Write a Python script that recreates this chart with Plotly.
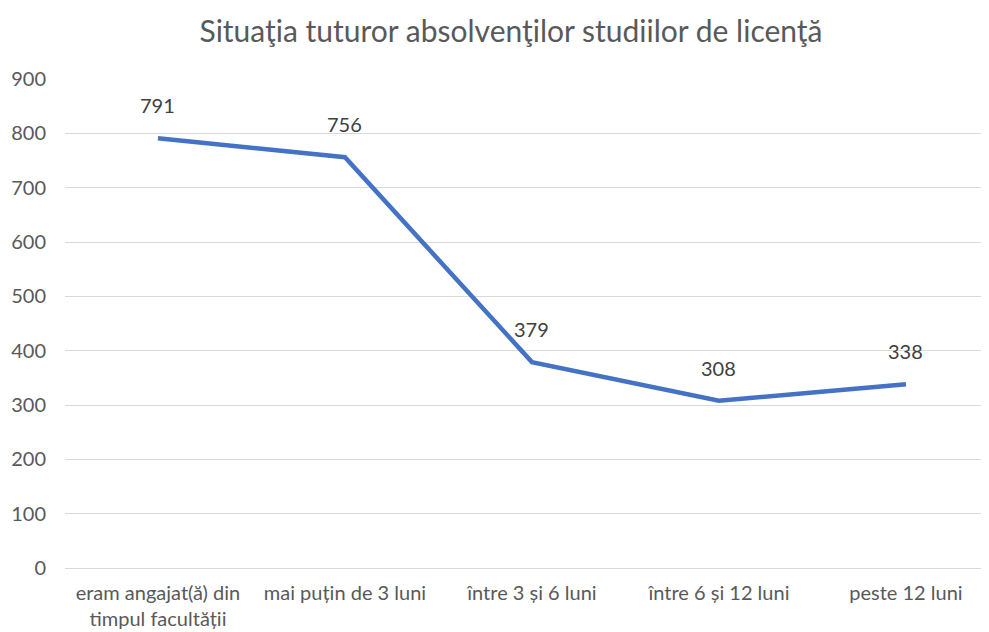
import plotly.graph_objects as go

categories = ["eram angajat(ă) din<br>timpul facultății", "mai puțin de 3 luni",
              "între 3 și 6 luni", "între 6 și 12 luni", "peste 12 luni"]
values = [791, 756, 379, 308, 338]
title_text = "Situaţia tuturor absolvenţilor studiilor de licenţă"

FONT = "Lato, Carlito, Calibri, sans-serif"

fig = go.Figure()
fig.add_trace(go.Scatter(
    x=list(range(len(categories))), y=values, mode="lines",
    line=dict(color="#4472C4", width=4.5), hoverinfo="skip", showlegend=False,
))
for i, v in enumerate(values):
    fig.add_annotation(x=i, y=v, text=str(v), showarrow=False, yshift=33,
                       font=dict(family=FONT, size=20, color="#404040"))

fig.update_layout(
    width=989, height=632,
    margin=dict(l=57, r=8, t=71, b=72, autoexpand=False),
    paper_bgcolor="white", plot_bgcolor="white",
    title=dict(text=title_text, x=0.5086, xanchor="center", y=0.9636, yanchor="middle",
               font=dict(family=FONT, size=30, color="#595959")),
    font=dict(family=FONT, color="#595959"),
)
fig.update_xaxes(
    range=[-0.497, 4.444], tickmode="array", tickvals=list(range(len(categories))),
    ticktext=categories, showgrid=False, zeroline=False, showline=False,
    tickfont=dict(family=FONT, size=20, color="#595959"), ticks="",
    ticklabelstandoff=11, automargin=False,
)
fig.update_yaxes(
    range=[0, 900], dtick=100, showgrid=True, gridcolor="#D9D9D9", gridwidth=1.3,
    zeroline=True, zerolinecolor="#D9D9D9", zerolinewidth=1.3, showline=False,
    tickfont=dict(family=FONT, size=20, color="#595959"), ticks="",
    ticklabelstandoff=18, automargin=False,
)
fig.write_html("out.html")
